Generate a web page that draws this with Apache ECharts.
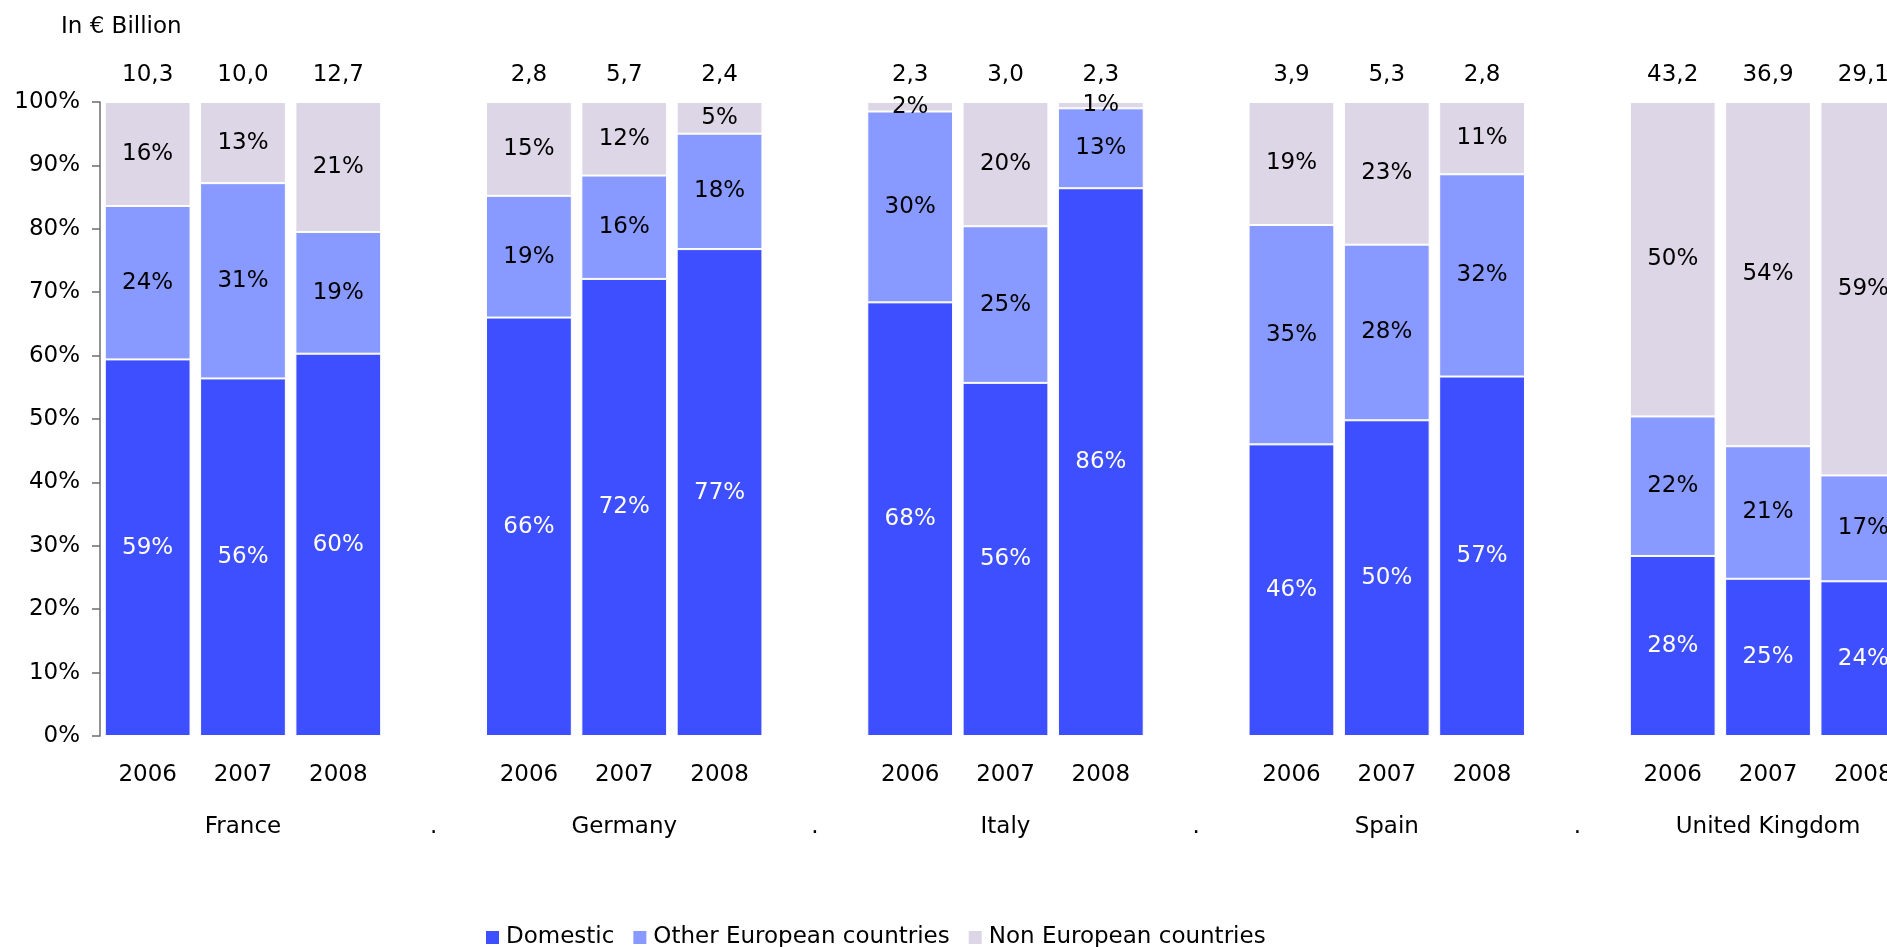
<!DOCTYPE html>
<html>
<head>
<meta charset="utf-8">
<title>Investment by origin</title>
<script src="https://cdn.jsdelivr.net/npm/echarts@6/dist/echarts.min.js"></script>
<style>
  html, body { margin: 0; padding: 0; background: #ffffff; overflow: hidden; }
  /* the plot runs slightly past the right edge of the page, cutting the last bar */
  #chart { width: 1911px; height: 947px; }
</style>
</head>
<body>
<div id="chart"></div>
<script>
// Shares (%) of investment volume by origin of capital, per country and year
const years = ['2006', '2007', '2008'];
const countries = ['France', 'Germany', 'Italy', 'Spain', 'United Kingdom'];
// Total volume in € billion shown above each bar
const totals = [[10.3, 10.0, 12.7], [2.8, 5.7, 2.4], [2.3, 3.0, 2.3], [3.9, 5.3, 2.8], [43.2, 36.9, 29.1]];
const domestic = [[59.4, 56.4, 60.3], [66.0, 72.1, 76.8], [68.4, 55.7, 86.4], [46.0, 49.8, 56.7], [28.4, 24.8, 24.4]];
const otherEuropean = [[24.2, 30.8, 19.2], [19.2, 16.3, 18.2], [30.1, 24.7, 12.6], [34.6, 27.7, 31.9], [22.0, 20.9, 16.7]];
const nonEuropean = [[16.4, 12.8, 20.5], [14.8, 11.6, 5.0], [1.5, 19.6, 1.0], [19.4, 22.5, 11.4], [49.6, 54.3, 58.9]];
const seriesNames = ['Domestic', 'Other European countries', 'Non European countries'];
const yTicks = [0, 10, 20, 30, 40, 50, 60, 70, 80, 90, 100];

const colors = ['#3d4fff', '#8899ff', '#dcd6e6'];
const FONT = "'DejaVu Sans', 'Liberation Sans', Arial, sans-serif";

// One slot per year, plus an empty spacer slot between countries
const yearCats = [], countryCats = [], totalCats = [];
function flatten(groups) {
  const out = [];
  groups.forEach((g, ci) => {
    g.forEach(v => out.push(v));
    if (ci < groups.length - 1) out.push('-');
  });
  return out;
}
countries.forEach((c, ci) => {
  years.forEach((y, yi) => {
    yearCats.push(y);
    countryCats.push(yi === 1 ? c : '');
    totalCats.push(totals[ci][yi].toFixed(1).replace('.', ','));
  });
  if (ci < countries.length - 1) {
    yearCats.push('');
    countryCats.push('.');
    totalCats.push('');
  }
});

const seriesData = [flatten(domestic), flatten(otherEuropean), flatten(nonEuropean)];

const chart = echarts.init(document.getElementById('chart'), null, { renderer: 'canvas' });

const catAxisBase = {
  type: 'category',
  gridIndex: 0,
  axisLine: { show: false },
  axisTick: { show: false },
  splitLine: { show: false }
};
const labelText = { fontFamily: FONT, fontSize: 23, color: '#000' };

chart.setOption({
  backgroundColor: '#ffffff',
  animation: false,
  title: {
    text: 'In € Billion',
    left: 56,
    top: 11,
    textStyle: { fontFamily: FONT, fontSize: 23, fontWeight: 'normal', color: '#000' }
  },
  legend: {
    data: seriesNames,
    left: 479,
    top: 921,
    icon: 'rect',
    itemWidth: 15,
    itemHeight: 15,
    itemGap: 17,
    textStyle: { fontFamily: FONT, fontSize: 23, color: '#000', padding: [0, 0, 0, 1] }
  },
  grid: { left: 100, right: 0, top: 102, bottom: 211 },
  xAxis: [
    Object.assign({}, catAxisBase, {
      position: 'bottom',
      data: yearCats,
      axisLabel: Object.assign({ interval: 0, margin: 28 }, labelText)
    }),
    Object.assign({}, catAxisBase, {
      position: 'bottom',
      data: countryCats,
      axisLabel: Object.assign({ interval: 0, margin: 80 }, labelText)
    }),
    Object.assign({}, catAxisBase, {
      position: 'top',
      data: totalCats,
      axisLabel: Object.assign({ interval: 0, margin: 15 }, labelText)
    })
  ],
  yAxis: {
    type: 'value',
    min: 0,
    max: 100,
    interval: 10,
    axisLine: { show: true, lineStyle: { color: '#6e6e6e', width: 1.5 } },
    axisTick: { show: true, length: 8, lineStyle: { color: '#6e6e6e', width: 1.5 } },
    splitLine: { show: false },
    axisLabel: Object.assign({
      margin: 20,
      formatter: v => v + '%',
      customValues: yTicks
    }, labelText)
  },
  series: seriesNames.map((name, i) => ({
    name: name,
    type: 'bar',
    stack: 'share',
    xAxisIndex: 0,
    barCategoryGap: '10%',
    data: seriesData[i],
    itemStyle: { color: colors[i], borderColor: '#ffffff', borderWidth: 1 },
    label: {
      show: true,
      position: 'inside',
      formatter: p => Math.round(p.value) + '%',
      fontFamily: FONT,
      fontSize: 23,
      color: i === 0 ? '#ffffff' : '#000000'
    },
    emphasis: { disabled: true }
  }))
});
</script>
</body>
</html>
